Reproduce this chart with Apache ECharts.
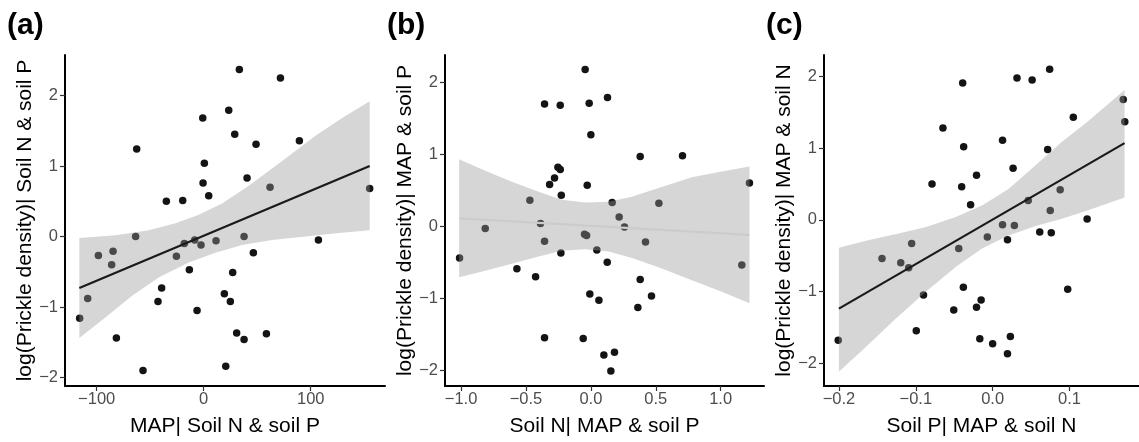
<!DOCTYPE html>
<html><head><meta charset="utf-8">
<script src="https://cdn.jsdelivr.net/npm/echarts@6/dist/echarts.min.js"></script>
<style>html,body{margin:0;padding:0;background:#fff}#c{width:1139px;height:442px}</style>
</head><body><div id="c"></div><script>
// ---------- Panel (a) ----------
const aX = [33.3, 71.7, 23.4, -0.9, 29.0, 48.9, 89.4, -62.6, 0.6, 40.5, 62.0, 155.1, -0.6, 4.7, -34.9, -19.6, -63.6, 37.7, 107.2, 11.5, -8.4, -18.1, -2.5, -25.5, -98.4, -84.7, -86.0, 46.4, -13.4, 27.1, -39.3, -108.4, -42.7, 19.3, 24.9, -6.2, -115.9, -81.6, 30.8, 37.7, 58.6, -56.7, 20.6];
const aY = [2.37, 2.25, 1.79, 1.68, 1.45, 1.31, 1.36, 1.24, 1.04, 0.83, 0.70, 0.68, 0.76, 0.58, 0.50, 0.51, 0.0, 0.0, -0.05, -0.06, -0.05, -0.10, -0.12, -0.28, -0.27, -0.21, -0.40, -0.23, -0.47, -0.51, -0.73, -0.88, -0.92, -0.81, -0.92, -1.05, -1.16, -1.44, -1.37, -1.46, -1.38, -1.90, -1.84];
const aUpX = [-116.2, -82.5, -51.3, -26.4, -4.6, 17.2, 42.1, 73.3, 104.4, 129.3, 155.1];
const aUpY = [-0.02, 0.02, 0.09, 0.19, 0.31, 0.47, 0.72, 1.07, 1.43, 1.68, 1.92];
const aLoX = [-116.2, -91.9, -66.9, -42.1, -14.0, 10.9, 35.9, 63.9, 95.0, 126.2, 155.1];
const aLoY = [-1.44, -1.15, -0.84, -0.58, -0.37, -0.23, -0.12, -0.05, 0.0, 0.05, 0.09];
const aLineX = [-116.2, 155.1];
const aLineY = [-0.73, 1.00];
const aTicksX = [-100, 0, 100];
const aTicksY = [-2, -1, 0, 1, 2];

// ---------- Panel (b) ----------
const bX = [-0.044, 0.128, -0.357, -0.236, -0.013, 0.0, 0.380, 0.706, -0.254, -0.236, -0.280, -0.318, -0.028, -0.228, 1.222, -0.470, 0.164, 0.524, 0.218, -0.388, -0.814, 0.259, -0.049, -0.033, -0.357, 0.046, 0.421, -0.231, -1.012, 0.126, 1.163, -0.570, -0.426, 0.380, -0.008, 0.062, 0.467, 0.362, -0.357, -0.059, 0.100, 0.182, 0.154];
const bY = [2.18, 1.79, 1.70, 1.68, 1.71, 1.27, 0.97, 0.98, 0.82, 0.79, 0.67, 0.58, 0.57, 0.43, 0.60, 0.36, 0.33, 0.32, 0.13, 0.04, -0.03, -0.01, -0.11, -0.13, -0.21, -0.33, -0.22, -0.37, -0.44, -0.50, -0.54, -0.59, -0.70, -0.74, -0.94, -1.03, -0.97, -1.13, -1.55, -1.56, -1.79, -1.75, -2.01];
const bUpX = [-1.015, -0.814, -0.609, -0.403, -0.224, -0.044, 0.136, 0.316, 0.521, 0.778, 1.009, 1.222];
const bUpY = [0.93, 0.77, 0.62, 0.48, 0.37, 0.33, 0.34, 0.41, 0.53, 0.68, 0.76, 0.83];
const bLoX = [-1.015, -0.814, -0.609, -0.403, -0.224, -0.044, 0.136, 0.316, 0.521, 0.778, 1.009, 1.222];
const bLoY = [-0.71, -0.62, -0.52, -0.42, -0.34, -0.32, -0.35, -0.44, -0.57, -0.75, -0.91, -1.07];
const bLineX = [-1.012, 1.222];
const bLineY = [0.11, -0.12];
const bTicksX = [-1.0, -0.5, 0.0, 0.5, 1.0];
const bTicksY = [-2, -1, 0, 1, 2];

// ---------- Panel (c) ----------
const cX = [0.0742, 0.0317, 0.0514, -0.039, 0.170, 0.172, 0.105, -0.0647, 0.0129, -0.0377, 0.0716, 0.0266, -0.021, -0.0789, -0.0403, -0.0287, 0.0463, 0.0879, 0.075, 0.123, 0.0129, 0.0283, -0.0069, 0.0193, 0.0613, 0.0763, -0.1054, -0.0441, -0.144, -0.1196, -0.1093, -0.0381, -0.090, 0.0977, -0.015, -0.021, -0.0506, -0.0994, -0.0167, 0.0, 0.0231, 0.0193, -0.201];
const cY = [2.10, 1.98, 1.95, 1.91, 1.68, 1.37, 1.43, 1.28, 1.11, 1.02, 0.98, 0.72, 0.62, 0.50, 0.46, 0.21, 0.27, 0.42, 0.13, 0.01, -0.07, -0.08, -0.24, -0.28, -0.17, -0.18, -0.33, -0.40, -0.54, -0.60, -0.67, -0.94, -1.05, -0.97, -1.12, -1.22, -1.26, -1.55, -1.66, -1.73, -1.63, -1.87, -1.68];
const cUpX = [-0.2001, -0.1637, -0.1252, -0.0866, -0.0481, -0.0138, 0.0206, 0.0548, 0.0891, 0.1234, 0.1717];
const cUpY = [-0.39, -0.29, -0.20, -0.10, 0.04, 0.20, 0.43, 0.75, 1.08, 1.37, 1.81];
const cLoX = [-0.2001, -0.1637, -0.1252, -0.0866, -0.0481, -0.0138, 0.0206, 0.0548, 0.0891, 0.1234, 0.1717];
const cLoY = [-2.12, -1.76, -1.37, -1.00, -0.66, -0.40, -0.22, -0.09, 0.01, 0.13, 0.31];
const cLineX = [-0.2001, 0.1717];
const cLineY = [-1.24, 1.07];
const cTicksX = [-0.2, -0.1, 0.0, 0.1];
const cTicksY = [-2, -1, 0, 1, 2];

const tags = ['(a)', '(b)', '(c)'];
const xTitles = ['MAP| Soil N & soil P', 'Soil N| MAP & soil P', 'Soil P| MAP & soil N'];
const yTitles = ['log(Prickle density)| Soil N & soil P', 'log(Prickle density)| MAP & soil P', 'log(Prickle density)| MAP & soil N'];

const FONT = "'Liberation Sans', Arial, Helvetica, sans-serif";
function fmt(d) { return v => (v < 0 ? '\u2212' : '') + Math.abs(v).toFixed(d); }

const panels = [
  {X: aX, Y: aY, upX: aUpX, upY: aUpY, loX: aLoX, loY: aLoY, lx: aLineX, ly: aLineY, tx: aTicksX, ty: aTicksY,
   xmin: -129.6, xmax: 169.4, ymin: -2.12, ymax: 2.575, left: 65, width: 320, dx: 0, lineColor: '#1a1a1a', tagLeft: 7},
  {X: bX, Y: bY, upX: bUpX, upY: bUpY, loX: bLoX, loY: bLoY, lx: bLineX, ly: bLineY, tx: bTicksX, ty: bTicksY,
   xmin: -1.124, xmax: 1.334, ymin: -2.22, ymax: 2.38, left: 445, width: 319, dx: 1, lineColor: '#cccccc', tagLeft: 387},
  {X: cX, Y: cY, upX: cUpX, upY: cUpY, loX: cLoX, loY: cLoY, lx: cLineX, ly: cLineY, tx: cTicksX, ty: cTicksY,
   xmin: -0.2195, xmax: 0.1905, ymin: -2.32, ymax: 2.30, left: 824, width: 319, dx: 1, lineColor: '#1a1a1a', tagLeft: 766}
];

const grid = [], xAxis = [], yAxis = [], series = [], title = [];
panels.forEach((p, i) => {
  grid.push({left: p.left, top: 55, width: p.width, height: 334, containLabel: false});
  title.push({text: tags[i], left: p.tagLeft, top: 11, padding: 0,
    textStyle: {fontSize: 30, fontWeight: 'bold', fontFamily: FONT, color: '#000', lineHeight: 30}});
  const common = {
    gridIndex: i, type: 'value', splitLine: {show: false},
    axisLine: {show: true, onZero: false, lineStyle: {color: '#000', width: 2}},
    nameLocation: 'middle', nameMoveOverlap: false,
    nameTextStyle: {fontSize: 21, color: '#000', fontFamily: FONT}
  };
  xAxis.push(Object.assign({}, common, {
    min: p.xmin, max: p.xmax, name: xTitles[i], nameGap: 30,
    axisTick: {show: true, length: 5, customValues: p.tx, lineStyle: {color: '#333', width: 1.2}},
    axisLabel: {customValues: p.tx, formatter: fmt(p.dx), color: '#4d4d4d', fontSize: 16.5, fontFamily: FONT, margin: 5}
  }));
  yAxis.push(Object.assign({}, common, {
    min: p.ymin, max: p.ymax, name: yTitles[i], nameGap: 29, nameRotate: 90,
    axisTick: {show: true, length: 5, customValues: p.ty, lineStyle: {color: '#333', width: 1.2}},
    axisLabel: {customValues: p.ty, formatter: fmt(0), color: '#4d4d4d', fontSize: 16.5, fontFamily: FONT, margin: 7}
  }));
  series.push({
    type: 'scatter', xAxisIndex: i, yAxisIndex: i, z: 1, silent: true,
    symbolSize: 7.5, itemStyle: {color: '#141414', opacity: 1},
    data: p.X.map((x, k) => [x, p.Y[k]])
  });
  series.push({
    type: 'custom', xAxisIndex: i, yAxisIndex: i, z: 2, silent: true,
    data: [[p.upX[0], p.upY[0]]],
    renderItem: function (params, api) {
      const pts = [];
      for (let k = 0; k < p.upX.length; k++) pts.push(api.coord([p.upX[k], p.upY[k]]));
      for (let k = p.loX.length - 1; k >= 0; k--) pts.push(api.coord([p.loX[k], p.loY[k]]));
      return {type: 'polygon', shape: {points: pts, smooth: 0}, style: {fill: 'rgba(153,153,153,0.4)', stroke: null}};
    }
  });
  series.push({
    type: 'line', xAxisIndex: i, yAxisIndex: i, z: 3, silent: true,
    symbol: 'none', showSymbol: false,
    lineStyle: {color: p.lineColor, width: 2.2},
    data: p.lx.map((x, k) => [x, p.ly[k]])
  });
});

const chart = echarts.init(document.getElementById('c'), null, {renderer: 'canvas'});
chart.setOption({animation: false, backgroundColor: '#fff', title, grid, xAxis, yAxis, series});
</script></body></html>
